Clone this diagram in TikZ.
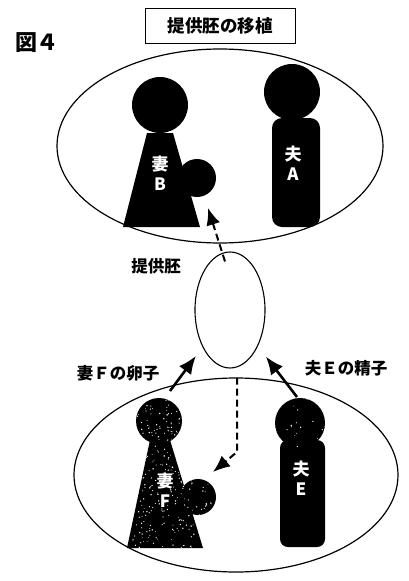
\documentclass[tikz,border=0pt]{standalone}
\usepackage{fontspec}
\newfontfamily\jp{Noto Sans CJK JP}
\usetikzlibrary{arrows.meta,shapes.geometric}

\tikzset{
  famring/.style={draw, line width=1.2pt},
  figlabel/.style={text=white, font=\jp\bfseries\fontsize{17}{20}\selectfont, align=center, inner sep=0pt},
  caption/.style={font=\jp\bfseries\fontsize{16.5}{17}\selectfont, inner sep=0pt},
  give/.style={-{Latex[length=18pt,width=15pt]}, line width=2.6pt},
  move/.style={dash pattern=on 7pt off 4pt, line width=2pt, -{Latex[length=17pt,width=14pt]}},
}
% white grain over a shape already filled
\newcommand\grain[5]{%
  \begin{scope}
    \clip #1;
    \pgfmathsetseed{#5}
    \foreach \g in {1,...,#4}{%
      \pgfmathsetmacro\gx{#2+rnd*90}
      \pgfmathsetmacro\gy{#3+rnd*160}
      \fill[white] (\gx,\gy) circle (0.4+0.4*rnd);
    }
  \end{scope}}

\begin{document}
\begin{tikzpicture}[x=1pt,y=-1pt]
	\useasboundingbox (0,0) rectangle (408,581);
	% the two couples
	\draw[famring] (220,146) ellipse [x radius=163, y radius=97];
	\draw[famring] (236,475) ellipse [x radius=162, y radius=97];
	\node[draw, line width=1pt, fill=white, minimum width=150pt, minimum height=35pt,
		font=\jp\bfseries\fontsize{17.5}{18}\selectfont] (title) at (220,26) {提供胚の移植};
	\node[font=\jp\bfseries\fontsize{22}{24}\selectfont, inner sep=0pt] (fignum) at (37,43) {図４};

	% wife B, carrying
	\fill (160,105) circle (28);
	\fill (147,133) -- (173,133) -- (200,227) -- (123,227) -- cycle;
	\fill (197,178) circle (19);
	\node[figlabel] (wifeB) at (160,173) {妻\\B};
	% husband A
	\fill (292,92) circle (28);
	\fill[rounded corners=10pt] (272,118) rectangle (320,227);
	\node[figlabel] (husbA) at (293,163) {夫\\A};

	% wife F
	\fill (159,421) circle (23);
	\fill (150,440) -- (170,440) -- (203,548) -- (127,548) -- cycle;
	\fill (198,497) circle (18);
	\grain{{(159,421) circle (23) (150,440) -- (170,440) -- (203,548) -- (127,548) -- cycle (198,497) circle (18)}}{122}{396}{420}{11}
	\node[figlabel] (wifeF) at (165,490) {妻\\F};
	% husband E
	\fill (300,423) circle (25);
	\fill[rounded corners=8pt] (280,440) rectangle (325,547);
	\grain{{(300,423) circle (25)}}{272}{396}{90}{5}
	\node[figlabel] (husbE) at (301,478) {夫\\E};

	% embryo
	\node[draw, ellipse, line width=1.1pt, minimum width=70pt, minimum height=116pt, inner sep=0pt] (embryo) at (230,310) {};
	\node[caption] (embryoLbl) at (156,266) {提供胚};
	\node[caption] (eggLbl) at (118,373) {妻Ｆの卵子};
	\node[caption] (spermLbl) at (346,368) {夫Ｅの精子};

	\coordinate (eggF) at (170,391);
	\coordinate (spermE) at (297,397);
	\coordinate (bumpB) at (208,208);
	\coordinate (bend) at (237,452);
	\coordinate (bumpF) at (213,472);
	\draw[give, shorten >=11pt] (eggF) -- (embryo);
	\draw[give, shorten >=13pt] (spermE) -- (embryo);
	\draw[move] ([shift={(-5,10)}]embryo.north) -- (bumpB);
	\draw[move] ([shift={(7,9)}]embryo.south) -- (bend) -- (bumpF);
\end{tikzpicture}
\end{document}
